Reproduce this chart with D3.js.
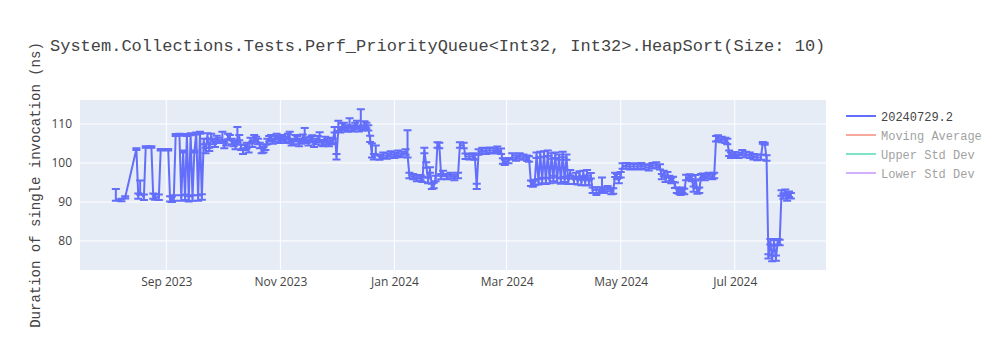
<!DOCTYPE html>
<html>
<head>
<meta charset="utf-8">
<script src="https://cdn.jsdelivr.net/npm/d3@7"></script>
<style>
  body { margin: 0; background: #fff; }
</style>
</head>
<body>
<div id="chart"></div>
<script>
// chart text
const title = "System.Collections.Tests.Perf_PriorityQueue<Int32, Int32>.HeapSort(Size: 10)";
const yTitle = "Duration of single invocation (ns)";

// legend entries (only the first trace is visible, others are legendonly)
const legendNames = ["20240729.2", "Moving Average", "Upper Std Dev", "Lower Std Dev"];
const legendColors = ["#636efa", "#EF553B", "#00cc96", "#ab63fa"];
const legendVisible = [true, false, false, false];

// axis ticks
const yTicks = [80, 90, 100, 110];
const xTicks = ["2023-09-01", "2023-11-01", "2024-01-01", "2024-03-01", "2024-05-01", "2024-07-01"];
const xRange = ["2023-07-16T20:00", "2024-08-18T19:00"];
const yRange = [72.56, 116.15];

// measurements: [date, duration ns, error plus, error minus] (errors default 0.7)
const measurements = [
  ["2023-08-05", 90.6, 2.7, 0.3], ["2023-08-08", 90.5, 0.3, 0.3], ["2023-08-10", 91.2, 0.3, 0.3],
  ["2023-08-16", 103.6, 0.2, 0.3], ["2023-08-17", 91.5], ["2023-08-18", 92.5, 3.0, 0.6],
  ["2023-08-20", 91.2], ["2023-08-21", 104.2, 0.1, 0.3], ["2023-08-24", 104.2, 0.1, 0.3],
  ["2023-08-25", 91.5], ["2023-08-26", 91.3], ["2023-08-28", 91.2],
  ["2023-08-29", 103.5, 0.1, 0.3], ["2023-09-02", 103.5, 0.1, 0.3], ["2023-09-03", 90.8],
  ["2023-09-04", 90.7], ["2023-09-05", 91.0], ["2023-09-06", 107.2, 0.2, 0.3],
  ["2023-09-08", 107.3, 0.2, 0.3], ["2023-09-09", 91.0], ["2023-09-10", 103.0, 0.2, 0.3],
  ["2023-09-11", 91.2], ["2023-09-12", 107.2, 0.2, 0.3], ["2023-09-13", 90.8],
  ["2023-09-14", 107.4, 0.2, 0.3], ["2023-09-15", 91.0], ["2023-09-16", 103.0, 0.2, 0.3],
  ["2023-09-17", 107.6, 0.2, 0.3], ["2023-09-18", 91.0], ["2023-09-19", 107.8, 0.2, 0.3],
  ["2023-09-20", 91.3], ["2023-09-21", 105.5], ["2023-09-22", 103.2],
  ["2023-09-23", 106.8, 0.8, 0.6], ["2023-09-24", 103.5, 0.4, 0.4], ["2023-09-25", 106.8],
  ["2023-09-26", 105.5], ["2023-09-27", 104.8], ["2023-09-28", 106.3],
  ["2023-09-29", 105.8], ["2023-10-01", 106.0, 2.0, 0.6], ["2023-10-02", 104.5],
  ["2023-10-03", 105.2], ["2023-10-04", 106.8], ["2023-10-05", 106.5],
  ["2023-10-06", 105.5], ["2023-10-07", 105.0], ["2023-10-08", 104.2],
  ["2023-10-09", 106.0, 3.2, 0.6], ["2023-10-10", 106.5], ["2023-10-11", 104.0],
  ["2023-10-12", 103.0], ["2023-10-13", 104.0], ["2023-10-14", 104.5],
  ["2023-10-15", 103.4], ["2023-10-16", 105.8], ["2023-10-17", 104.8],
  ["2023-10-18", 106.5], ["2023-10-19", 106.0], ["2023-10-20", 105.5],
  ["2023-10-21", 104.5], ["2023-10-22", 103.2], ["2023-10-23", 103.4],
  ["2023-10-24", 104.0], ["2023-10-25", 105.5], ["2023-10-26", 106.2],
  ["2023-10-27", 106.5], ["2023-10-28", 105.6], ["2023-10-29", 106.2],
  ["2023-10-30", 106.8], ["2023-10-31", 106.0], ["2023-11-01", 105.8],
  ["2023-11-02", 106.5], ["2023-11-03", 106.0], ["2023-11-04", 105.8],
  ["2023-11-05", 106.8], ["2023-11-06", 106.0, 2.0, 0.6], ["2023-11-07", 105.2],
  ["2023-11-08", 105.5], ["2023-11-09", 106.5], ["2023-11-10", 106.2],
  ["2023-11-11", 105.0], ["2023-11-12", 105.6], ["2023-11-13", 106.6],
  ["2023-11-14", 106.0, 3.0, 0.6], ["2023-11-15", 105.8], ["2023-11-16", 105.2],
  ["2023-11-17", 106.0], ["2023-11-18", 106.4], ["2023-11-19", 104.8],
  ["2023-11-20", 105.5], ["2023-11-21", 106.2], ["2023-11-22", 105.9, 2.0, 0.6],
  ["2023-11-23", 105.2], ["2023-11-24", 105.0], ["2023-11-25", 106.0],
  ["2023-11-26", 105.5], ["2023-11-27", 105.0], ["2023-11-28", 105.8],
  ["2023-11-29", 105.5], ["2023-11-30", 108.5],
  ["2023-12-01", 101.6], ["2023-12-02", 108.8, 2.0, 0.6], ["2023-12-03", 108.5],
  ["2023-12-04", 109.2, 1.0, 0.6], ["2023-12-05", 109.6], ["2023-12-06", 109.0],
  ["2023-12-07", 108.7], ["2023-12-08", 109.5, 2.0, 0.6], ["2023-12-09", 109.0],
  ["2023-12-10", 108.8], ["2023-12-11", 109.6], ["2023-12-12", 109.3, 1.5, 0.6],
  ["2023-12-13", 108.8], ["2023-12-14", 109.5, 4.3, 0.6], ["2023-12-15", 109.0],
  ["2023-12-16", 109.2, 1.5, 0.6], ["2023-12-17", 109.6],
  ["2023-12-18", 109.0], ["2023-12-19", 106.0, 1.0, 0.6], ["2023-12-20", 102.0, 3.0, 0.6],
  ["2023-12-21", 101.6], ["2023-12-22", 102.5, 2.0, 0.6], ["2023-12-24", 101.5],
  ["2023-12-26", 102.0], ["2023-12-28", 101.8], ["2023-12-30", 102.3],
  ["2024-01-01", 102.0], ["2024-01-03", 102.5], ["2024-01-05", 102.2],
  ["2024-01-07", 102.8], ["2024-01-08", 102.0, 6.4, 0.6], ["2024-01-09", 96.8],
  ["2024-01-11", 96.5], ["2024-01-13", 96.0], ["2024-01-15", 96.2],
  ["2024-01-16", 95.8], ["2024-01-17", 103.2], ["2024-01-18", 99.5],
  ["2024-01-19", 95.5], ["2024-01-20", 98.2], ["2024-01-21", 94.0],
  ["2024-01-22", 94.2], ["2024-01-23", 96.0], ["2024-01-24", 104.6],
  ["2024-01-25", 104.5], ["2024-01-26", 96.5], ["2024-01-27", 97.2, 0.8, 0.6],
  ["2024-01-29", 96.5], ["2024-01-31", 96.8], ["2024-02-02", 96.3],
  ["2024-02-04", 96.8], ["2024-02-05", 104.6], ["2024-02-07", 104.5],
  ["2024-02-08", 101.7], ["2024-02-10", 101.6], ["2024-02-12", 101.8],
  ["2024-02-13", 101.5], ["2024-02-14", 94.0], ["2024-02-15", 102.8],
  ["2024-02-17", 103.2], ["2024-02-19", 103.0], ["2024-02-21", 103.3],
  ["2024-02-23", 103.1], ["2024-02-25", 103.5], ["2024-02-27", 103.0],
  ["2024-02-28", 100.5], ["2024-02-29", 100.2], ["2024-03-02", 100.6],
  ["2024-03-04", 101.5, 1.0, 0.6], ["2024-03-06", 101.3], ["2024-03-08", 101.8],
  ["2024-03-10", 101.5], ["2024-03-12", 101.2], ["2024-03-13", 101.0],
  ["2024-03-14", 94.8], ["2024-03-15", 94.6], ["2024-03-16", 95.0],
  ["2024-03-17", 102.0], ["2024-03-18", 95.2], ["2024-03-19", 102.2],
  ["2024-03-20", 95.5], ["2024-03-21", 102.3], ["2024-03-22", 95.3],
  ["2024-03-23", 102.5], ["2024-03-24", 95.5], ["2024-03-25", 101.8],
  ["2024-03-26", 96.0], ["2024-03-27", 102.0], ["2024-03-28", 95.6],
  ["2024-03-29", 101.5], ["2024-03-30", 95.4], ["2024-03-31", 102.2],
  ["2024-04-01", 95.8], ["2024-04-02", 101.5], ["2024-04-03", 95.3],
  ["2024-04-04", 97.5], ["2024-04-06", 95.3], ["2024-04-07", 97.0, 0.5, 0.6],
  ["2024-04-08", 95.2], ["2024-04-09", 97.2], ["2024-04-10", 95.0],
  ["2024-04-11", 97.3], ["2024-04-12", 95.0], ["2024-04-13", 97.5],
  ["2024-04-14", 95.0], ["2024-04-15", 96.7], ["2024-04-16", 93.0],
  ["2024-04-18", 93.2, 0.6, 1.4], ["2024-04-20", 93.0], ["2024-04-21", 93.3, 3.0, 0.6],
  ["2024-04-22", 93.0], ["2024-04-24", 93.4], ["2024-04-26", 93.0, 0.6, 1.0],
  ["2024-04-27", 92.8], ["2024-04-28", 97.0, 0.5, 0.6], ["2024-04-29", 96.5],
  ["2024-04-30", 95.5], ["2024-05-01", 97.0], ["2024-05-02", 99.2],
  ["2024-05-04", 99.3], ["2024-05-06", 99.0], ["2024-05-08", 99.2],
  ["2024-05-10", 99.0], ["2024-05-12", 99.3], ["2024-05-14", 99.0],
  ["2024-05-16", 98.8], ["2024-05-18", 99.3], ["2024-05-20", 99.5],
  ["2024-05-22", 99.0], ["2024-05-23", 96.5], ["2024-05-24", 97.3],
  ["2024-05-25", 95.8], ["2024-05-26", 97.2, 0.5, 0.6], ["2024-05-27", 96.0],
  ["2024-05-28", 95.5], ["2024-05-29", 95.8], ["2024-05-30", 94.3],
  ["2024-05-31", 93.0], ["2024-06-01", 92.8], ["2024-06-02", 92.5],
  ["2024-06-03", 93.0], ["2024-06-04", 92.7], ["2024-06-05", 96.3],
  ["2024-06-07", 96.5, 0.6, 0.6], ["2024-06-08", 96.0], ["2024-06-09", 93.3],
  ["2024-06-10", 96.2], ["2024-06-11", 92.8], ["2024-06-12", 93.0],
  ["2024-06-13", 96.5], ["2024-06-14", 96.8, 0.5, 0.6], ["2024-06-15", 96.3],
  ["2024-06-17", 96.8], ["2024-06-19", 96.5], ["2024-06-20", 96.8],
  ["2024-06-21", 106.2], ["2024-06-22", 106.4], ["2024-06-24", 106.0],
  ["2024-06-26", 105.8], ["2024-06-27", 105.5], ["2024-06-28", 102.5],
  ["2024-06-29", 102.0], ["2024-07-01", 102.4, 0.4, 0.6], ["2024-07-03", 102.0],
  ["2024-07-05", 102.6], ["2024-07-07", 102.2], ["2024-07-09", 102.0],
  ["2024-07-11", 101.6], ["2024-07-13", 101.4], ["2024-07-15", 101.5],
  ["2024-07-16", 105.2, 0.2, 0.3], ["2024-07-17", 105.0, 0.2, 0.3], ["2024-07-18", 101.3],
  ["2024-07-19", 76.0, 0.6, 0.5], ["2024-07-20", 79.8], ["2024-07-21", 75.5],
  ["2024-07-22", 79.5], ["2024-07-23", 75.6], ["2024-07-24", 79.8],
  ["2024-07-25", 79.6], ["2024-07-26", 92.3], ["2024-07-27", 91.5],
  ["2024-07-28", 92.5], ["2024-07-29", 91.8, 0.6, 1.5], ["2024-07-30", 92.0],
  ["2024-07-31", 91.6]
];

const W = 1000, H = 350;
const margin = {top: 100, right: 174, bottom: 80, left: 80};
const width = W - margin.left - margin.right,
  height = H - margin.top - margin.bottom;

const parse = d3.isoParse;
const data = measurements.map(function(r) {
  return {date: parse(r[0]), v: r[1], up: r[2] ?? 0.7, down: r[3] ?? 0.7};
}).sort(function(a, b) { return a.date - b.date; });

const svg = d3.select("#chart").append("svg")
  .attr("width", W)
  .attr("height", H)
  .style("font-family", "'Liberation Mono', 'Courier New', monospace");

const x = d3.scaleTime().domain(xRange.map(parse)).range([0, width]);
const y = d3.scaleLinear().domain(yRange).range([height, 0]);

const g = svg.append("g")
  .attr("transform", "translate(" + margin.left + "," + margin.top + ")");

// plot background
g.append("rect").attr("width", width).attr("height", height).attr("fill", "#e5ecf6");

// grid
g.append("g").selectAll("line").data(yTicks).enter().append("line")
  .attr("x1", 0).attr("x2", width)
  .attr("y1", function(d) { return y(d); }).attr("y2", function(d) { return y(d); })
  .attr("stroke", "#fff").attr("stroke-width", 1);
g.append("g").selectAll("line").data(xTicks.map(parse)).enter().append("line")
  .attr("y1", 0).attr("y2", height)
  .attr("x1", function(d) { return x(d); }).attr("x2", function(d) { return x(d); })
  .attr("stroke", "#fff").attr("stroke-width", 1);

// axes (labels only, like plotly)
const xAxis = g.append("g")
  .attr("transform", "translate(0," + height + ")")
  .call(d3.axisBottom(x).tickValues(xTicks.map(parse)).tickFormat(d3.timeFormat("%b %Y")).tickSize(0).tickPadding(7));
const yAxis = g.append("g")
  .call(d3.axisLeft(y).tickValues(yTicks).tickSize(0).tickPadding(6));
[xAxis, yAxis].forEach(function(a) {
  a.select(".domain").remove();
  a.selectAll("text")
    .style("font-family", "'Open Sans', 'Noto Sans', sans-serif")
    .style("font-size", "12px")
    .attr("fill", "#444");
});
yAxis.selectAll("text").attr("dx", "-2");

// clip to plot area
svg.append("defs").append("clipPath").attr("id", "clip")
  .append("rect").attr("width", width).attr("height", height);
const plot = g.append("g").attr("clip-path", "url(#clip)");

const color = legendColors[0];
const line = d3.line()
  .x(function(d) { return x(d.date); })
  .y(function(d) { return y(d.v); });

plot.append("path")
  .datum(data)
  .attr("d", line)
  .attr("fill", "none")
  .attr("stroke", color)
  .attr("stroke-width", 2)
  .attr("stroke-linejoin", "round");

// error bars with caps
const capW = 4;
const bars = plot.append("g").attr("stroke", color).attr("stroke-width", 2).attr("fill", "none");
bars.selectAll("path").data(data).enter().append("path")
  .attr("d", function(d) {
    const px = x(d.date), yt = y(d.v + d.up), yb = y(d.v - d.down);
    return "M" + px + "," + yt + "V" + yb +
      "M" + (px - capW) + "," + yt + "h" + (2 * capW) +
      "M" + (px - capW) + "," + yb + "h" + (2 * capW);
  });

// title
svg.append("text")
  .attr("x", 50).attr("y", 51)
  .style("font-size", "17px")
  .attr("fill", "#444")
  .text(title);

// y axis title
svg.append("text")
  .attr("transform", "translate(" + 40 + "," + (margin.top + height / 2) + ") rotate(-90)")
  .attr("text-anchor", "middle")
  .style("font-size", "14px")
  .attr("fill", "#444")
  .text(yTitle);

// legend
const legend = svg.append("g").attr("transform", "translate(846,116)");
const items = legend.selectAll("g").data(legendNames).enter().append("g")
  .attr("transform", function(d, i) { return "translate(0," + (i * 19) + ")"; })
  .style("opacity", function(d, i) { return legendVisible[i] ? 1 : 0.5; });
items.append("line")
  .attr("x1", 0).attr("x2", 30)
  .attr("stroke", function(d, i) { return legendColors[i]; })
  .attr("stroke-width", 2);
items.append("text")
  .attr("x", 35).attr("y", 4.5)
  .style("font-size", "12px")
  .attr("fill", "#444")
  .text(function(d) { return d; });
</script>
</body>
</html>
